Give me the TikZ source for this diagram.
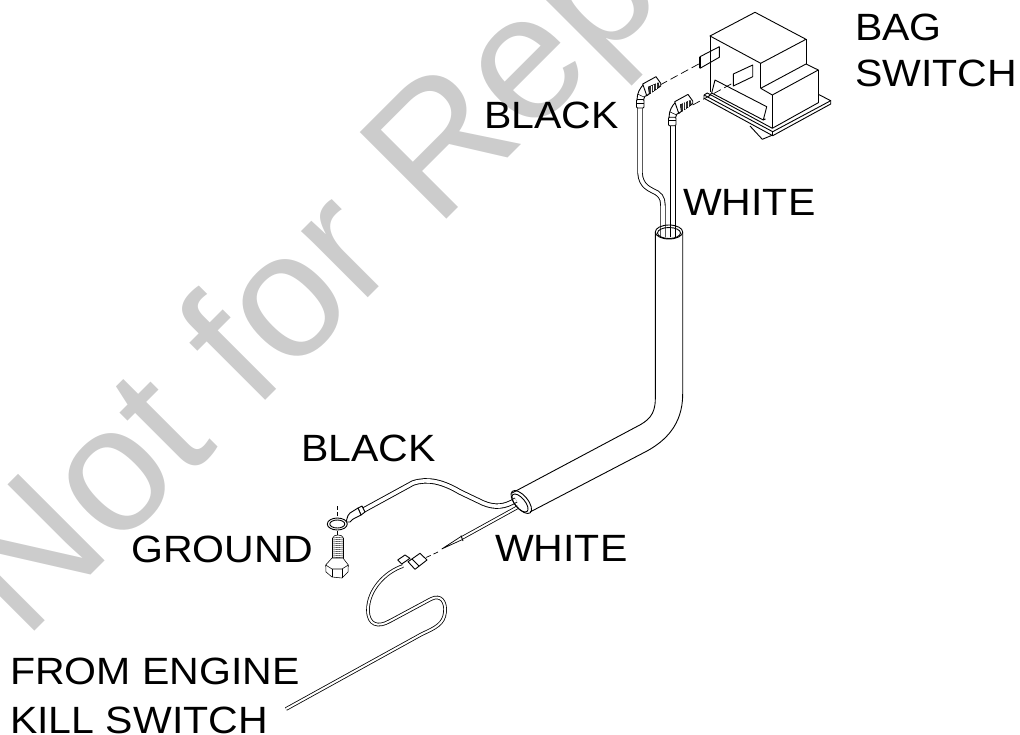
\documentclass[tikz,border=0pt]{standalone}
\usepackage{fontspec}
\setmainfont[FakeStretch=1.08]{Liberation Sans}
\newfontfamily\markfont{Liberation Sans}
\tikzset{
    callout/.style={anchor=base west,inner sep=0pt,font=\fontsize{38}{38}\selectfont},
    stamp/.style={anchor=base west,inner sep=0pt,rotate=45,text=black!20,font=\markfont\fontsize{178}{178}\selectfont},
    part/.style={line width=0.9pt,line join=round},
    finepart/.style={line width=0.55pt,line join=round},
    leader/.style={line width=0.7pt,dash pattern=on 8pt off 4pt},
    wire/.style={line width=0.9pt,double=white,double distance=3.6pt},
    thinwire/.style={line width=0.8pt,double=white,double distance=2pt},
}
\begin{document}
\begin{tikzpicture}[x=1pt,y=-1pt]
    \useasboundingbox (0,0) rectangle (1020,734);
    \clip (0,0) rectangle (1020,734);

    \node[stamp] (stamp) at (24,642) {Not for Rep};

    \node[callout] (bag) at (855,40) {BAG};
    \node[callout] (switch) at (855,86) {SWITCH};
    \node[callout] (blacktop) at (484,128) {BLACK};
    \node[callout] (whitetop) at (683,215) {WHITE};
    \node[callout] (blacklow) at (301,461) {BLACK};
    \node[callout] (ground) at (131,562) {GROUND};
    \node[callout] (whitelow) at (495,561) {WHITE};
    \node[callout] (engine) at (10,684) {FROM ENGINE};
    \node[callout] (kill) at (10,733) {KILL SWITCH};

    \draw[part] (710,36) -- (755,12.3) -- (806,39.3) -- (760.7,63.3) -- cycle;
    \draw[part] (710,36) -- (710,92);
    \draw[part] (760.7,63.3) -- (760.7,88.3);
    \draw[part] (806,39.3) -- (806,64);
    \draw[part] (760.7,88.3) -- (806,64) -- (818.3,70) -- (772.3,95) -- cycle;
    \draw[part] (772.3,95) -- (772.3,128.3);
    \draw[part] (818.3,70) -- (818.3,102.7);

    \draw[part] (704,95) -- (772.7,131.7) -- (830.7,100.7) -- (818.3,94.3);
    \draw[part] (704,95) -- (704,98.3) -- (772.7,135.7) -- (830.7,104) -- (830.7,100.7);
    \draw[part] (772.7,131.7) -- (772.7,135.7);
    \draw[part] (704,95) -- (707.3,93) -- (772.3,128.3) -- (818.3,102.7);
    \draw[part] (709,96) -- (711.7,93) -- (763.3,120);
    \draw[part] (711.7,93) -- (715,80) -- (766.7,106.7) -- (763.3,120) -- (765.5,119);
    \draw[part] (750,126) -- (762.3,139.3) -- (772.7,135);

    \draw[part] (700,56.7) -- (719.3,46.7) -- (719.3,57.3) -- (700,68.3) -- cycle;
    \draw[line width=1.5pt] (700,56.7) -- (700,68.3);
    \draw[part] (733.3,74) -- (752.7,65) -- (752.7,76.7) -- (733.3,86) -- cycle;
    \draw[line width=1.5pt] (733.3,74) -- (733.3,86);
    \draw[leader] (660,85) -- (700,63.3);
    \draw[leader] (692.7,105) -- (733,83);

    \draw[wire] (640,108) -- (640,173) .. controls (641,187) and (650,189) .. (657,193) .. controls (663,197) and (663,202) .. (663,210) -- (663,237);
    \draw[wire] (673,126) -- (673,237);

    \foreach \dx/\dy in {0/0,32/17.7} {
        \begin{scope}[shift={(\dx,\dy)}]
            \draw[part,fill=white] (637,100) .. controls (637,93) and (640,88) .. (644,84) -- (648,95) .. controls (645,95) and (644,97) .. (643.5,100) -- cycle;
            \draw[finepart] (637.5,94) -- (644,97);
            \draw[part,fill=white] (642.7,84) -- (656,76.7) -- (660.7,83.3) -- (660.7,86) -- (646.7,95.5) -- cycle;
            \draw[finepart,fill=black!80] (648.3,87) -- (658.3,82.8) -- (659.3,87) -- (649.3,94) -- cycle;
            \foreach \sx in {651,653.5,656} {
                \draw[white,line width=0.5pt] (\sx,{86.7-0.42*(\sx-648.3)}) -- (\sx,{94-0.7*(\sx-649.3)});
            }
            \draw[part,fill=white,rounded corners=1pt] (636.5,99.5) rectangle (644,108);
            \draw[finepart] (636.5,103) -- (644,103);
        \end{scope}
    }

    \draw[part] (669,232) ellipse[x radius=13.7,y radius=7];
    \draw[part] (669,233) ellipse[x radius=11.5,y radius=5.5];
    \draw[part] (655.3,232) -- (655.3,399) .. controls (655.3,415) and (648,421) .. (636,427) -- (512,493);
    \draw[part] (682.7,232) -- (682.7,394) .. controls (682.7,425) and (665,441) .. (647,451) -- (530,512);

    \draw[wire] (516,500) .. controls (505,507) and (495,508) .. (483,503) -- (460,492) .. controls (443,482) and (428,478) .. (413,483) -- (360,512);
    \draw[thinwire] (518,507) -- (461.8,538);
    \draw[part] (521.3,502) [rotate around={-50:(521.3,502)}] ellipse[x radius=14,y radius=6.5];
    \draw[part] (520,503) [rotate around={-50:(520,503)}] ellipse[x radius=11,y radius=5];

    \draw[part,fill=white] (362,506) -- (358,508) -- (361,515) -- (365,512) -- cycle;
    \draw[part,fill=white] (358,508) -- (350,513) .. controls (346,517) and (348,519) .. (346,522) -- (350,522) .. controls (353,518) and (356,518) .. (361,515) -- cycle;
    \draw[part,fill=white,even odd rule] (337.3,524) ellipse[x radius=10,y radius=6] (337.3,524) ellipse[x radius=7.5,y radius=4];
    \draw[leader,dash pattern=on 4pt off 2pt] (337,506) -- (337,516);
    \draw[leader,dash pattern=on 4pt off 2pt] (337,531) -- (337,535);

    \foreach \ty in {538,540,...,560} {
        \draw[line width=0.4pt] (332.7,\ty) -- (343.3,\ty-1);
    }
    \draw[finepart] (332.7,538) -- (332.7,560);
    \draw[finepart] (343.3,538) -- (343.3,560);
    \draw[finepart] (332.7,538) .. controls (333,534) and (343,534) .. (343.3,538);
    \draw[finepart,fill=white] (325.7,565) -- (332,558) -- (343,558) -- (348.3,565) -- (348,572) -- (342,578) -- (332,577) -- (326,572) -- cycle;
    \draw[finepart] (325.7,565) -- (332,569) -- (342,569) -- (348.3,565);
    \draw[finepart] (332,569) -- (332,577);
    \draw[finepart] (342,569) -- (342,578);

    \draw[line width=0.7pt] (461,536.5) -- (441.7,549) -- (462.5,539.5);
    \draw[line width=0.9pt] (461,535.5) -- (463,541);
    \draw[leader,dash pattern=on 5pt off 3pt] (438,552) -- (426,557.5);

    \draw[thinwire] (403,566) .. controls (385,572) and (368,590) .. (368,610) .. controls (368,625) and (378,628) .. (390,621) -- (431,599) .. controls (441,594) and (446,602) .. (445,612) .. controls (444,624) and (435,628) .. (422,634) -- (286,709);
    \draw[part,fill=white] (408,561.7) -- (420,553.3) -- (427,560) -- (415,569.3) -- cycle;
    \draw[part] (412,559) -- (419,566);
    \draw[part,fill=white] (397.7,560) -- (405,555) -- (410,558.3) -- (401.7,564) -- cycle;

\end{tikzpicture}
\end{document}
